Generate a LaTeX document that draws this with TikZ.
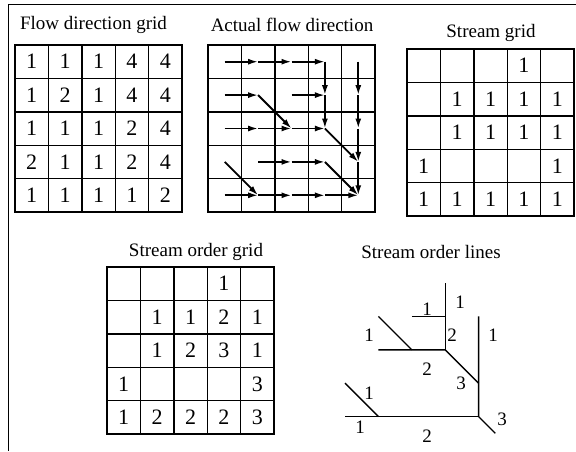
\documentclass[tikz,border=0pt]{standalone}
\usepackage{fontspec}
\setmainfont{Liberation Serif}
\usetikzlibrary{arrows.meta,calc}

\tikzset{
  celula/.style={draw,line width=1.4pt,minimum size=33.4pt,inner sep=0pt,
                 font=\fontsize{22}{24}\selectfont},
  titulo/.style={font=\fontsize{19}{22}\selectfont},
  rotulo/.style={font=\fontsize{19}{22}\selectfont,inner sep=0pt},
  seta/.style={line width=1.8pt,-{Latex[length=10pt,width=6pt]}},
  rio/.style={line width=1.4pt},
}
\newcommand{\cs}{33.4}

% grade 5x5: nome, x, y, valores (0 = vazio)
\newcommand{\grade}[4]{%
  \foreach \linha [count=\i from 0] in #4 {
    \foreach \v [count=\j from 0] in \linha {
      \node[celula] (#1-\i-\j) at ({#2+(\j+0.5)*\cs},{#3+(\i+0.5)*\cs})
        {\ifnum\v>0 \v\fi};
    }
  }
}

\newcommand{\direcoes}{{1,1,1,4,4},{1,2,1,4,4},{1,1,1,2,4},{2,1,1,2,4},{1,1,1,1,2}}
\newcommand{\vazia}{{0,0,0,0,0},{0,0,0,0,0},{0,0,0,0,0},{0,0,0,0,0},{0,0,0,0,0}}
\newcommand{\rede}{{0,0,0,1,0},{0,1,1,1,1},{0,1,1,1,1},{1,0,0,0,1},{1,1,1,1,1}}
\newcommand{\ordem}{{0,0,0,1,0},{0,1,1,2,1},{0,1,2,3,1},{1,0,0,0,3},{1,2,2,2,3}}

\begin{document}
\begin{tikzpicture}[x=1pt,y=-1pt]
\useasboundingbox (0,0) rectangle (576,451);

% moldura
\draw[line width=1pt] (576,4) -- (8,4) -- (8,451);

% titulos
\node[titulo] (t1) at (93.5,25) {Flow direction grid};
\node[titulo] (t2) at (292,25) {Actual flow direction};
\node[titulo] (t3) at (491,33) {Stream grid};
\node[titulo] (t4) at (196,252) {Stream order grid};
\node[titulo] (t5) at (431,252) {Stream order lines};

% grades
\grade{fd}{15}{45}{\direcoes}
\grade{af}{208}{45}{\vazia}
\grade{sg}{407}{49}{\rede}
\grade{so}{107}{267}{\ordem}

% setas de escoamento (1 = leste, 2 = sudeste, 4 = sul)
\foreach \linha [count=\i from 0] in \direcoes {
  \foreach \v [count=\j from 0] in \linha {
    \pgfmathtruncatemacro\ii{\i+(\v>1)}
    \pgfmathtruncatemacro\jj{\j+(\v<4)}
    \ifnum\ii<5 \ifnum\jj<5
      \draw[seta] (af-\i-\j.center) -- (af-\ii-\jj.center);
    \fi\fi
  }
}

% linhas de ordem
\foreach \i in {0,...,4}
  \foreach \j in {0,...,4}
    \coordinate (l-\i-\j) at ({345+\j*\cs},{283+\i*\cs});
\coordinate (foz) at ({345+4.5*\cs},{283+4.5*\cs});

\draw[rio] (l-0-3) -- (l-2-3);
\draw[rio] (l-1-2) -- (l-1-3);
\draw[rio] (l-2-1) -- (l-2-3) -- (l-3-4);
\draw[rio] (l-1-1) -- (l-2-2);
\draw[rio] (l-1-4) -- (l-4-4) -- (foz);
\draw[rio] (l-4-0) -- (l-4-4);
\draw[rio] (l-3-0) -- (l-4-1);

\node[rotulo] (o1) at (427,309) {1};
\node[rotulo] (o2) at (460,302) {1};
\node[rotulo] (o3) at (452,335) {2};
\node[rotulo] (o4) at (369,335) {1};
\node[rotulo] (o5) at (493,335) {1};
\node[rotulo] (o6) at (427,369) {2};
\node[rotulo] (o7) at (461,383) {3};
\node[rotulo] (o8) at (369,393) {1};
\node[rotulo] (o9) at (360,427) {1};
\node[rotulo] (o10) at (427,436) {2};
\node[rotulo] (o11) at (502,419) {3};

\end{tikzpicture}
\end{document}
